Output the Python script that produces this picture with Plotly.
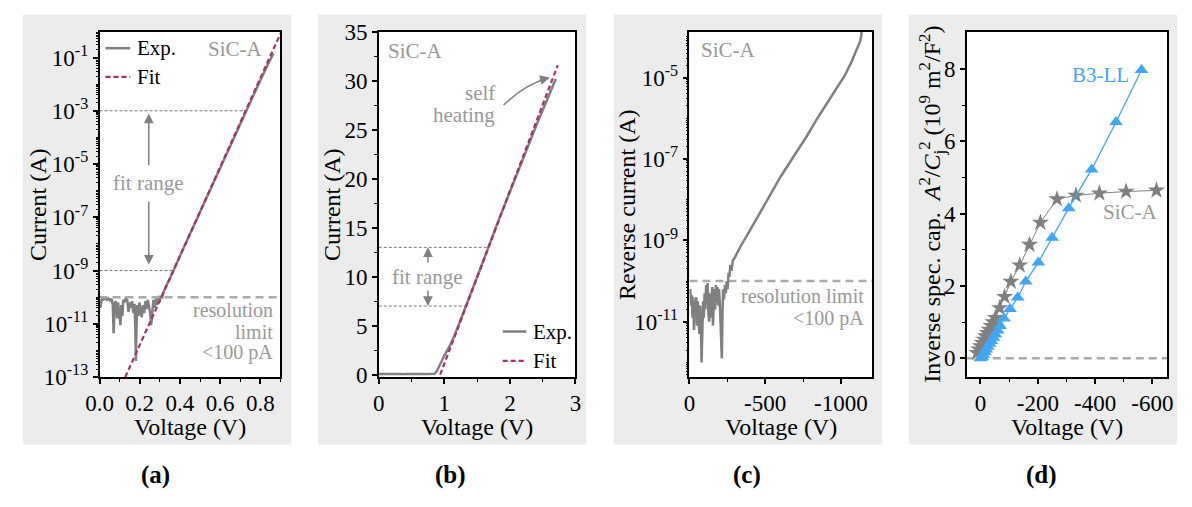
import plotly.graph_objects as go

FONT = "Liberation Serif"
GRAY = "#808080"
FIT = "#A3326F"
BLUE = "#42A5F5"
ANN = "#999999"
BG = "#ECECEC"

# ---------------- data ----------------
# (a) forward I-V, log scale (values given as log10 of current in A)
a_exp_voltage = [0.000, 0.004, 0.008, 0.012, 0.020, 0.028, 0.036, 0.044, 0.052, 0.060,
                 0.066, 0.070, 0.074, 0.078, 0.084, 0.088, 0.092, 0.098, 0.104, 0.108,
                 0.114, 0.118, 0.124, 0.130, 0.138, 0.144, 0.150, 0.156, 0.162, 0.168,
                 0.174, 0.178, 0.181, 0.184, 0.188, 0.194, 0.198, 0.204, 0.210, 0.216,
                 0.222, 0.228, 0.234, 0.240, 0.246, 0.252, 0.257, 0.262, 0.268, 0.274,
                 0.280, 0.286, 0.292, 0.298, 0.304, 0.310, 0.318,
                 0.33, 0.35, 0.40, 0.45, 0.50, 0.55, 0.60, 0.65, 0.70, 0.75, 0.80, 0.84, 0.865]
a_exp_log10_current = [-10.15, -10.40, -10.20, -10.05, -10.08, -10.04, -10.10, -10.05, -10.12, -10.06,
                       -10.30, -11.35, -10.60, -10.15, -10.25, -10.80, -10.20, -10.60, -11.05, -10.30,
                       -10.70, -10.10, -10.20, -10.05, -10.10, -10.55, -10.20, -10.40, -10.15, -10.60,
                       -10.25, -11.20, -12.40, -11.10, -10.30, -10.70, -10.20, -10.50, -10.75, -10.30,
                       -10.60, -10.15, -10.45, -10.10, -10.35, -10.60, -11.05, -10.40, -10.10, -10.40,
                       -10.05, -10.30, -9.95, -10.20, -9.95, -10.05, -9.82,
                       -9.60, -9.30, -8.45, -7.62, -6.78, -5.95, -5.12, -4.28, -3.45, -2.63, -1.85, -1.22, -0.85]
a_fit_voltage = [0.128, 0.905]
a_fit_log10_current = [-13.0, -0.02]
a_fit_range_log10 = [-3.0, -9.0]
a_fit_range_end_voltage = [0.727, 0.368]
resolution_limit_A = 1e-10

# (b) forward I-V, linear scale
b_exp_voltage = [0.0, 0.1, 0.2, 0.3, 0.4, 0.5, 0.6, 0.7, 0.8, 0.85, 0.88, 0.92, 0.96, 0.99,
                 1.03, 1.08, 1.15, 1.25, 1.4, 1.6, 1.8, 2.0, 2.2, 2.4, 2.55, 2.7]
b_exp_current = [0.05, 0.08, 0.04, 0.07, 0.05, 0.09, 0.06, 0.05, 0.08, 0.08, 0.3, 0.9, 1.4, 1.8,
                 2.3, 2.9, 3.9, 5.6, 8.2, 11.7, 15.3, 18.7, 22.1, 25.4, 27.8, 30.2]
b_fit_voltage = [0.937, 2.73]
b_fit_current = [0.0, 31.6]
b_fit_range_current = [13.0, 7.0]
b_fit_range_end_voltage = [1.675, 1.335]

# (c) reverse I-V (log10 of current in A)
c_voltage = [0, -5, -10, -15, -20, -25, -30, -35, -40, -45, -50, -55, -60, -65, -70, -75, -80, -85,
             -90, -95, -100, -105, -110, -115, -120, -125, -130, -135, -140, -145, -150, -155, -160,
             -165, -170, -175, -180, -185, -190, -195, -200, -205, -210, -214, -218, -222, -228, -234,
             -240, -246, -252, -258, -264, -270, -278, -286, -300, -340, -386, -440, -490, -538, -600,
             -660, -720, -777, -840, -907, -970, -1026, -1070, -1113, -1128, -1136, -1140, -1142]
c_log10_current = [-10.3, -10.2, -10.6, -10.35, -10.9, -10.4, -11.2, -10.5, -10.7, -10.4, -11.1, -10.5,
                   -10.9, -11.3, -10.6, -11.0, -12.0, -11.2, -10.5, -10.9, -10.3, -10.7, -10.1, -10.5,
                   -10.05, -10.8, -11.0, -10.3, -10.9, -10.5, -10.15, -11.1, -10.6, -10.2, -10.7, -10.1,
                   -10.4, -10.15, -10.6, -10.2, -10.5, -11.0, -11.85, -11.9, -10.8, -10.2, -10.45, -10.1,
                   -10.3, -10.0, -10.2, -9.8, -9.9, -9.6, -9.75, -9.5, -9.42, -9.13, -8.84, -8.48, -8.15,
                   -7.83, -7.45, -7.1, -6.77, -6.43, -6.03, -5.65, -5.28, -4.95, -4.62, -4.25, -4.1,
                   -3.95, -3.6, -3.0]

# (d) inverse specific capacitance (10^9 m^2/F^2)
d_sic_voltage = [12, 6, 0, -6, -12, -18, -24, -30, -37, -44, -52, -67, -84, -106, -137, -171,
                 -209, -267, -333, -415, -508, -614]
d_sic_value = [0.15, 0.25, 0.34, 0.43, 0.52, 0.61, 0.70, 0.79, 0.90, 1.00, 1.12, 1.39, 1.70, 2.12,
               2.57, 3.14, 3.75, 4.40, 4.50, 4.56, 4.61, 4.64]
d_b3_voltage = [0, -3, -6, -10, -15, -20, -26, -32, -38, -45, -52, -60, -69, -82, -103, -130,
                -158, -202, -250, -308, -388, -473, -562]
d_b3_value = [0.0, 0.02, 0.05, 0.10, 0.17, 0.24, 0.32, 0.40, 0.48, 0.57, 0.66, 0.77, 0.89, 1.10,
              1.36, 1.68, 2.12, 2.65, 3.33, 4.15, 5.22, 6.53, 7.97]

# tick labels
a_xticks = [0.0, 0.2, 0.4, 0.6, 0.8]
a_xticklabels = ["0.0", "0.2", "0.4", "0.6", "0.8"]
a_yexp = [-13, -11, -9, -7, -5, -3, -1]
b_xticks = [0, 1, 2, 3]
b_yticks = [0, 5, 10, 15, 20, 25, 30, 35]
c_xticks = [0, -500, -1000]
c_xticklabels = ["0", "-500", "-1000"]
c_yexp = [-11, -9, -7, -5]
d_xticks = [0, -200, -400, -600]
d_xticklabels = ["0", "-200", "-400", "-600"]
d_yticks = [0, 2, 4, 6, 8]

# ---------------- figure ----------------
W, H = 1192, 507
def px(x):
    return x / W
def py(y):
    return 1 - y / H

dom_y = [py(384), py(21)]
dom = {"a": [px(87), px(271)], "b": [px(371), px(571)],
       "c": [px(687), px(873)], "d": [px(969), px(1173)]}

fig = go.Figure()
pw = lambda v: [10 ** x for x in v]

# (a)
fig.add_trace(go.Scatter(x=a_exp_voltage, y=pw(a_exp_log10_current), mode="lines",
                         line=dict(color=GRAY, width=2.5), xaxis="x", yaxis="y", showlegend=False))
fig.add_trace(go.Scatter(x=a_fit_voltage, y=pw(a_fit_log10_current), mode="lines",
                         line=dict(color=FIT, width=2.2, dash="5px,3px"), xaxis="x", yaxis="y", showlegend=False))
for lv, ev in zip(a_fit_range_log10, a_fit_range_end_voltage):
    fig.add_trace(go.Scatter(x=[0, ev], y=[10 ** lv, 10 ** lv], mode="lines",
                             line=dict(color="#777777", width=1, dash="3px,2px"),
                             xaxis="x", yaxis="y", showlegend=False))
fig.add_trace(go.Scatter(x=[0, 0.9], y=[resolution_limit_A] * 2, mode="lines",
                         line=dict(color="#AAAAAA", width=2.5, dash="8px,5px"),
                         xaxis="x", yaxis="y", showlegend=False))

# (b)
for cv, ev in zip(b_fit_range_current, b_fit_range_end_voltage):
    fig.add_trace(go.Scatter(x=[0, ev], y=[cv, cv], mode="lines",
                             line=dict(color="#777777", width=1, dash="3px,2px"),
                             xaxis="x2", yaxis="y2", showlegend=False))
fig.add_trace(go.Scatter(x=b_exp_voltage, y=b_exp_current, mode="lines",
                         line=dict(color=GRAY, width=2.5), xaxis="x2", yaxis="y2", showlegend=False))
fig.add_trace(go.Scatter(x=b_fit_voltage, y=b_fit_current, mode="lines",
                         line=dict(color=FIT, width=2.2, dash="5px,3px"), xaxis="x2", yaxis="y2", showlegend=False))

# (c)
fig.add_trace(go.Scatter(x=[0, -1208], y=[resolution_limit_A] * 2, mode="lines",
                         line=dict(color="#AAAAAA", width=2.5, dash="8px,5px"),
                         xaxis="x3", yaxis="y3", showlegend=False))
fig.add_trace(go.Scatter(x=c_voltage, y=pw(c_log10_current), mode="lines",
                         line=dict(color=GRAY, width=2.5), xaxis="x3", yaxis="y3", showlegend=False))

# (d)
fig.add_trace(go.Scatter(x=[48, -652], y=[0, 0], mode="lines",
                         line=dict(color="#AAAAAA", width=2.5, dash="8px,5px"),
                         xaxis="x4", yaxis="y4", showlegend=False))
fig.add_trace(go.Scatter(x=d_sic_voltage, y=d_sic_value, mode="lines+markers",
                         line=dict(color=GRAY, width=1),
                         marker=dict(symbol="star", size=13, color=GRAY),
                         xaxis="x4", yaxis="y4", showlegend=False))
fig.add_trace(go.Scatter(x=d_b3_voltage, y=d_b3_value, mode="lines+markers",
                         line=dict(color=BLUE, width=1.3),
                         marker=dict(symbol="triangle-up", size=12, color=BLUE),
                         xaxis="x4", yaxis="y4", showlegend=False))

base = dict(showline=True, linecolor="black", linewidth=1.5, mirror=True, ticks="outside",
            ticklen=5, tickwidth=1.5, tickcolor="black", showgrid=False, zeroline=False,
            tickfont=dict(family=FONT, size=23, color="black"))
minor_base = dict(ticks="outside", ticklen=3, tickwidth=1.2, tickcolor="black", showgrid=False)

a_minor = [k * 10.0 ** n for n in range(-13, 0) for k in range(1, 10)]
c_minor = [k * 10.0 ** n for n in range(-13, -3) for k in range(1, 10)]

fig.update_layout(
    xaxis=dict(base, domain=dom["a"], anchor="y", range=[0, 0.9], tickmode="array",
               tickvals=a_xticks, ticktext=a_xticklabels,
               minor=dict(minor_base, tickmode="array", tickvals=[0.1, 0.3, 0.5, 0.7, 0.9])),
    yaxis=dict(base, domain=dom_y, anchor="x", type="log", range=[-13, -0.04], tickmode="array",
               tickvals=[10.0 ** e for e in a_yexp],
               ticktext=["10<sup>%d</sup>" % e for e in a_yexp],
               minor=dict(minor_base, ticklen=2, tickwidth=1, tickmode="array", tickvals=a_minor)),
    xaxis2=dict(base, domain=dom["b"], anchor="y2", range=[0, 3], tickmode="array",
                tickvals=b_xticks, minor=dict(minor_base, tickmode="array", tickvals=[0.5, 1.5, 2.5])),
    yaxis2=dict(base, domain=dom_y, anchor="x2", range=[-0.25, 35], tickmode="array",
                tickvals=b_yticks, minor=dict(minor_base, tickmode="array",
                                              tickvals=[2.5, 7.5, 12.5, 17.5, 22.5, 27.5, 32.5])),
    xaxis3=dict(base, domain=dom["c"], anchor="y3", range=[0, -1208], tickmode="array",
                tickvals=c_xticks, ticktext=c_xticklabels,
                minor=dict(minor_base, tickmode="array", tickvals=[-250, -750])),
    yaxis3=dict(base, domain=dom_y, anchor="x3", type="log", range=[-12.36, -3.88], tickmode="array",
                tickvals=[10.0 ** e for e in c_yexp],
                ticktext=["10<sup>%d</sup>" % e for e in c_yexp],
                minor=dict(minor_base, ticklen=2, tickwidth=1, tickmode="array", tickvals=c_minor)),
    xaxis4=dict(base, domain=dom["d"], anchor="y4", range=[48, -652], tickmode="array",
                tickvals=d_xticks, ticktext=d_xticklabels,
                minor=dict(minor_base, tickmode="array", tickvals=[-100, -300, -500])),
    yaxis4=dict(base, domain=dom_y, anchor="x4", range=[-0.52, 9.02], tickmode="array",
                tickvals=d_yticks, minor=dict(minor_base, tickmode="array", tickvals=[1, 3, 5, 7])),
)

shapes = []
# panel backgrounds
for x0, x1 in [(9, 282), (309, 582), (610, 883), (910, 1183)]:
    shapes.append(dict(type="rect", xref="paper", yref="paper", x0=px(x0), x1=px(x1),
                       y0=py(455), y1=py(3), fillcolor=BG, line=dict(width=0), layer="below"))
# plot-area white fill
for k in ["a", "b", "c", "d"]:
    shapes.append(dict(type="rect", xref="paper", yref="paper", x0=dom[k][0], x1=dom[k][1],
                       y0=dom_y[0], y1=dom_y[1], fillcolor="white", line=dict(width=0), layer="below"))
# legends (a) and (b)
shapes += [
    dict(type="line", xref="x domain", yref="y domain", x0=0.033, x1=0.17, y0=0.953, y1=0.953,
         line=dict(color=GRAY, width=2.5)),
    dict(type="line", xref="x domain", yref="y domain", x0=0.033, x1=0.17, y0=0.87, y1=0.87,
         line=dict(color=FIT, width=2.2, dash="5px,3px")),
    dict(type="line", xref="x2 domain", yref="y2 domain", x0=0.63, x1=0.75, y0=0.132, y1=0.132,
         line=dict(color=GRAY, width=2.5)),
    dict(type="line", xref="x2 domain", yref="y2 domain", x0=0.63, x1=0.75, y0=0.047, y1=0.047,
         line=dict(color=FIT, width=2.2, dash="5px,3px")),
    # curved "self heating" arrow
    dict(type="path", xref="x2", yref="y2", path="M 1.904,27.54 Q 2.23,29.65 2.58,30.28",
         line=dict(color=GRAY, width=1.5)),
]

ann = []
def text(x, y, s, xref, yref, size=21, color=ANN, xanchor="center", yanchor="middle", **kw):
    ann.append(dict(x=x, y=y, text=s, xref=xref, yref=yref, showarrow=False, xanchor=xanchor,
                    yanchor=yanchor, font=dict(family=FONT, size=size, color=color), **kw))

def arrow(x, y, ax, ay, xref, yref):
    ann.append(dict(x=x, y=y, ax=ax, ay=ay, xref=xref, yref=yref, axref=xref, ayref=yref,
                    text="", showarrow=True, arrowhead=2, arrowsize=1.3, arrowwidth=1.5,
                    arrowcolor=GRAY))

# (a) annotations (log axis -> log10 units)
text(0.197, 0.953, "Exp.", "x domain", "y domain", color="black", xanchor="left")
text(0.197, 0.87, "Fit", "x domain", "y domain", color="black", xanchor="left")
text(0.678, -0.68, "SiC-A", "x", "y")
text(0.245, -5.72, "fit range", "x", "y")
arrow(0.245, -3.1, 0.245, -5.1, "x", "y")
arrow(0.245, -8.78, 0.245, -6.35, "x", "y")
text(0.875, -10.5, "resolution", "x", "y", xanchor="right", size=20)
text(0.875, -11.29, "limit", "x", "y", xanchor="right", size=20)
text(0.875, -12.07, "&lt;100 pA", "x", "y", xanchor="right", size=20)

# (b)
text(0.775, 0.132, "Exp.", "x2 domain", "y2 domain", color="black", xanchor="left")
text(0.775, 0.047, "Fit", "x2 domain", "y2 domain", color="black", xanchor="left")
text(0.105, 33.06, "SiC-A", "x2", "y2", xanchor="left")
text(1.81, 28.8, "self", "x2", "y2", xanchor="right")
text(1.81, 26.5, "heating", "x2", "y2", xanchor="right")
arrow(2.609, 30.35, 2.43, 30.02, "x2", "y2")
text(0.75, 10.0, "fit range", "x2", "y2")
arrow(0.75, 13.0, 0.75, 11.3, "x2", "y2")
arrow(0.75, 7.0, 0.75, 8.75, "x2", "y2")

# (c)
text(-63, -4.32, "SiC-A", "x3", "y3", xanchor="left")
text(-1163, -10.38, "resolution limit", "x3", "y3", xanchor="right", size=20)
text(-1163, -10.92, "&lt;100 pA", "x3", "y3", xanchor="right", size=20)

# (d)
text(-419, 7.82, "B3-LL", "x4", "y4", color=BLUE)
text(-525, 4.03, "SiC-A", "x4", "y4")

# axis titles
TS = 24
for xc in [179, 471, 780, 1071]:
    text(px(xc), py(437), "Voltage (V)", "paper", "paper", size=TS, color="black")
for xc, s in [(24, "Current (A)"), (323, "Current (A)"), (623, "Reverse current (A)"),
              (933, "Inverse spec. cap.  <i>A</i><sup>2</sup>/<i>C</i><sub>j</sub><sup>2</sup> "
                    "(10<sup>9</sup> m<sup>2</sup>/F<sup>2</sup>)")]:
    text(px(xc), py(202.5), s, "paper", "paper", size=TS, color="black", textangle=-90)
# panel labels
for xc, s in [(144, "(a)"), (444, "(b)"), (745, "(c)"), (1045, "(d)")]:
    text(px(xc), py(487), "<b>%s</b>" % s, "paper", "paper", size=25, color="black")

fig.update_layout(width=W, height=H, margin=dict(l=0, r=0, t=0, b=0), autosize=False,
                  paper_bgcolor="white", plot_bgcolor="rgba(0,0,0,0)",
                  font=dict(family=FONT, color="black"),
                  shapes=shapes, annotations=ann, showlegend=False)
fig.write_html("out.html")
